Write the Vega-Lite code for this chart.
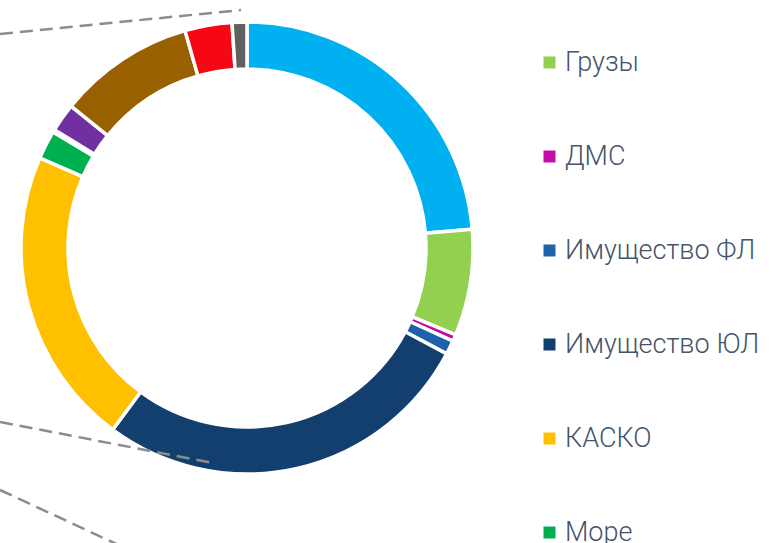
{
  "$schema": "https://vega.github.io/schema/vega-lite/v6.json",
  "width": 494,
  "height": 496,
  "autosize": {"type": "none"},
  "padding": {"left": 0, "top": 0, "right": 288, "bottom": 47},
  "background": "white",
  "config": {"view": {"stroke": null}},
  "layer": [
    {
      "data": {
        "values": [
          {"idx": 1, "category": "Авиа", "share": 23.68},
          {"idx": 2, "category": "Грузы", "share": 7.6},
          {"idx": 3, "category": "ДМС", "share": 0.48},
          {"idx": 4, "category": "Имущество ФЛ", "share": 1.0},
          {"idx": 5, "category": "Имущество ЮЛ", "share": 27.38},
          {"idx": 6, "category": "КАСКО", "share": 21.39},
          {"idx": 7, "category": "Море", "share": 2.06},
          {"idx": 8, "category": "НС", "share": 0.19},
          {"idx": 9, "category": "ОСАГО", "share": 2.03},
          {"idx": 10, "category": "Ответственность", "share": 9.78},
          {"idx": 11, "category": "Прочее", "share": 3.36},
          {"idx": 12, "category": "Технические риски", "share": 1.06}
        ]
      },
      "mark": {"type": "arc", "innerRadius": 179, "outerRadius": 226, "stroke": "white", "strokeWidth": 3.5},
      "encoding": {
        "theta": {"field": "share", "type": "quantitative", "stack": true},
        "order": {"field": "idx", "type": "quantitative"},
        "color": {
          "field": "category",
          "type": "nominal",
          "scale": {
            "domain": ["Авиа", "Грузы", "ДМС", "Имущество ФЛ", "Имущество ЮЛ", "КАСКО", "Море", "НС", "ОСАГО", "Ответственность", "Прочее", "Технические риски"],
            "range": ["#00B0F0", "#92D050", "#C20EA6", "#1E62AC", "#133F6E", "#FFC000", "#00B050", "#A6A6A6", "#7030A0", "#996000", "#F70714", "#606060"]
          },
          "legend": {
            "values": ["Грузы", "ДМС", "Имущество ФЛ", "Имущество ЮЛ", "КАСКО", "Море", "НС", "ОСАГО", "Ответственность", "Прочее", "Технические риски"],
            "orient": "none",
            "legendX": 536,
            "legendY": 49,
            "title": null,
            "padding": 0,
            "symbolType": "square",
            "symbolSize": 144,
            "symbolStrokeWidth": 0,
            "labelFont": "Roboto",
            "labelFontSize": 27,
            "labelFontWeight": 300,
            "labelColor": "#44546A",
            "labelOffset": 2,
            "labelLimit": 0,
            "rowPadding": 66
          }
        }
      }
    },
    {
      "data": {
        "values": [
          {"x1": 0, "y1": 34, "x2": 241, "y2": 10},
          {"x1": 0, "y1": 422, "x2": 213, "y2": 463},
          {"x1": 0, "y1": 490, "x2": 123, "y2": 547}
        ]
      },
      "mark": {"type": "rule", "strokeDash": [13, 7], "strokeWidth": 2.5, "color": "#8C8C8C", "clip": false},
      "encoding": {
        "x": {"field": "x1", "type": "quantitative", "scale": {"domain": [0, 494], "nice": false, "zero": false}, "axis": null},
        "y": {"field": "y1", "type": "quantitative", "scale": {"domain": [496, 0], "nice": false, "zero": false}, "axis": null},
        "x2": {"field": "x2"},
        "y2": {"field": "y2"}
      }
    }
  ]
}
